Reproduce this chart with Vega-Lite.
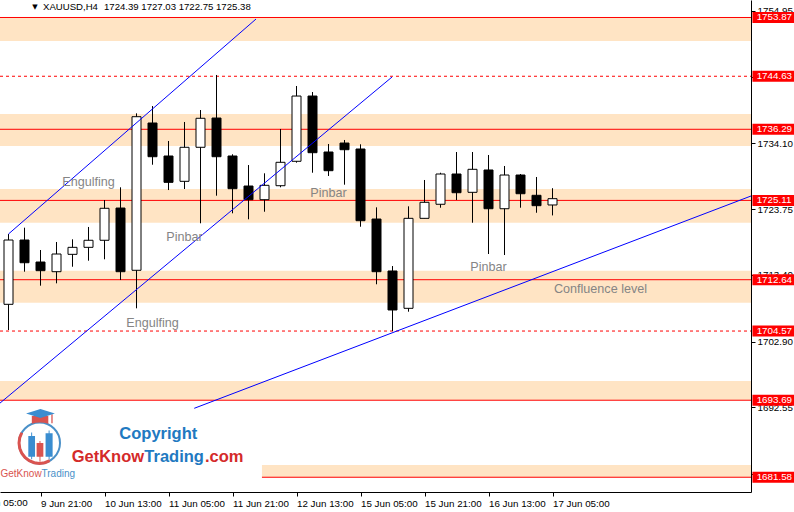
{
  "$schema": "https://vega.github.io/schema/vega-lite/v6.json",
  "description": "XAUUSD H4 candles with zones, levels and trend lines",
  "width": 751,
  "height": 492,
  "autosize": {"type": "none"},
  "padding": {"left": 0, "top": 0, "right": 43, "bottom": 20},
  "background": "#ffffff",
  "config": {"view": {"stroke": null}, "font": "Liberation Sans"},
  "datasets": {
    "candles": [
      {"i": 0, "o": 1708.77, "h": 1719.83, "l": 1704.73, "c": 1718.88},
      {"i": 1, "o": 1718.88, "h": 1720.82, "l": 1713.90, "c": 1715.31},
      {"i": 2, "o": 1715.42, "h": 1717.31, "l": 1711.70, "c": 1714.06},
      {"i": 3, "o": 1713.90, "h": 1718.57, "l": 1712.07, "c": 1716.68},
      {"i": 4, "o": 1716.63, "h": 1718.99, "l": 1714.68, "c": 1717.73},
      {"i": 5, "o": 1717.73, "h": 1720.93, "l": 1715.63, "c": 1718.84},
      {"i": 6, "o": 1718.84, "h": 1725.17, "l": 1715.85, "c": 1723.87},
      {"i": 7, "o": 1723.91, "h": 1727.17, "l": 1712.59, "c": 1713.90},
      {"i": 8, "o": 1714.12, "h": 1738.80, "l": 1708.14, "c": 1738.27},
      {"i": 9, "o": 1737.28, "h": 1739.95, "l": 1730.72, "c": 1731.98},
      {"i": 10, "o": 1732.09, "h": 1734.45, "l": 1726.74, "c": 1727.95},
      {"i": 11, "o": 1728.11, "h": 1737.44, "l": 1726.90, "c": 1733.46},
      {"i": 12, "o": 1733.46, "h": 1739.32, "l": 1721.51, "c": 1738.02},
      {"i": 13, "o": 1738.06, "h": 1744.83, "l": 1725.85, "c": 1731.98},
      {"i": 14, "o": 1732.09, "h": 1732.36, "l": 1723.08, "c": 1726.95},
      {"i": 15, "o": 1727.37, "h": 1730.67, "l": 1722.14, "c": 1725.22},
      {"i": 16, "o": 1725.22, "h": 1729.37, "l": 1723.33, "c": 1727.48},
      {"i": 17, "o": 1727.42, "h": 1736.34, "l": 1727.17, "c": 1731.10},
      {"i": 18, "o": 1731.26, "h": 1743.10, "l": 1731.04, "c": 1741.52},
      {"i": 19, "o": 1741.52, "h": 1742.15, "l": 1729.46, "c": 1732.61},
      {"i": 20, "o": 1732.72, "h": 1733.98, "l": 1728.95, "c": 1729.78},
      {"i": 21, "o": 1734.13, "h": 1734.61, "l": 1727.58, "c": 1733.08},
      {"i": 22, "o": 1733.19, "h": 1733.93, "l": 1720.97, "c": 1721.92},
      {"i": 23, "o": 1722.18, "h": 1724.02, "l": 1711.92, "c": 1713.90},
      {"i": 24, "o": 1714.01, "h": 1714.79, "l": 1704.57, "c": 1707.88},
      {"i": 25, "o": 1708.14, "h": 1724.18, "l": 1707.61, "c": 1722.29},
      {"i": 26, "o": 1722.29, "h": 1728.32, "l": 1722.29, "c": 1724.81},
      {"i": 27, "o": 1724.50, "h": 1729.46, "l": 1723.96, "c": 1729.26},
      {"i": 28, "o": 1729.26, "h": 1732.72, "l": 1725.17, "c": 1726.32},
      {"i": 29, "o": 1726.38, "h": 1732.72, "l": 1721.60, "c": 1730.00},
      {"i": 30, "o": 1729.89, "h": 1732.25, "l": 1716.68, "c": 1723.80},
      {"i": 31, "o": 1723.80, "h": 1730.52, "l": 1716.52, "c": 1729.10},
      {"i": 32, "o": 1729.10, "h": 1729.26, "l": 1723.96, "c": 1726.16},
      {"i": 33, "o": 1725.91, "h": 1728.79, "l": 1723.17, "c": 1724.28},
      {"i": 34, "o": 1724.39, "h": 1727.03, "l": 1722.75, "c": 1725.38}
    ],
    "zones": [
      {"lo": 1750.17, "hi": 1753.87, "from": -0.53125, "to": 46.40625},
      {"lo": 1733.66, "hi": 1738.69, "from": -0.53125, "to": 46.40625},
      {"lo": 1721.60, "hi": 1726.90, "from": -0.53125, "to": 46.40625},
      {"lo": 1709.03, "hi": 1714.05, "from": -0.53125, "to": 46.40625},
      {"lo": 1693.69, "hi": 1696.71, "from": -0.53125, "to": 46.40625},
      {"lo": 1681.58, "hi": 1683.50, "from": 15.84, "to": 46.40625}
    ],
    "levels": [
      {"price": 1753.87, "kind": "solid", "from": -0.53125, "to": 46.40625},
      {"price": 1744.63, "kind": "dashed", "from": -0.53125, "to": 46.40625},
      {"price": 1736.29, "kind": "solid", "from": -0.53125, "to": 46.40625},
      {"price": 1725.11, "kind": "solid", "from": -0.53125, "to": 46.40625},
      {"price": 1712.64, "kind": "solid", "from": -0.53125, "to": 46.40625},
      {"price": 1704.57, "kind": "dashed", "from": -0.53125, "to": 46.40625},
      {"price": 1693.69, "kind": "solid", "from": -0.53125, "to": 46.40625},
      {"price": 1681.58, "kind": "solid", "from": 15.84, "to": 46.40625}
    ],
    "trendlines": [
      {"id": "a", "idx": 0, "price": 1719.83},
      {"id": "a", "idx": 15.47, "price": 1753.63},
      {"id": "b", "idx": -0.53125, "price": 1693.24},
      {"id": "b", "idx": 23.97, "price": 1744.51},
      {"id": "c", "idx": 11.61, "price": 1692.42},
      {"id": "c", "idx": 46.40625, "price": 1725.80}
    ],
    "notes": [
      {"idx": 5, "price": 1728.05, "text": "Engulfing"},
      {"idx": 11, "price": 1719.40, "text": "Pinbar"},
      {"idx": 9, "price": 1705.88, "text": "Engulfing"},
      {"idx": 20, "price": 1726.23, "text": "Pinbar"},
      {"idx": 30, "price": 1714.59, "text": "Pinbar"},
      {"idx": 37, "price": 1711.18, "text": "Confluence level"}
    ]
  },
  "layer": [
    {
      "data": {"name": "zones"},
      "mark": {"type": "rect", "color": "#FFE4C4"},
      "encoding": {
        "x": {
          "field": "from", "type": "quantitative",
          "scale": {"domain": [-0.53125, 46.40625], "nice": false, "zero": false, "padding": 0},
          "axis": {
            "orient": "bottom", "title": null, "grid": false,
            "values": [2, 6, 10, 14, 18, 22, 26, 30, 34],
            "labelExpr": "datum.value == 2 ? '9 Jun 21:00' : datum.value == 6 ? '10 Jun 13:00' : datum.value == 10 ? '11 Jun 05:00' : datum.value == 14 ? '11 Jun 21:00' : datum.value == 18 ? '12 Jun 13:00' : datum.value == 22 ? '15 Jun 05:00' : datum.value == 26 ? '15 Jun 21:00' : datum.value == 30 ? '16 Jun 13:00' : '17 Jun 05:00'",
            "labelAlign": "left", "labelBaseline": "top", "labelPadding": 2,
            "tickSize": 4, "labelFontSize": 9.8, "labelFont": "Liberation Sans",
            "labelColor": "#000000", "tickColor": "#000000", "domainColor": "#000000",
            "labelFlush": false, "labelOverlap": false, "labelBound": false
          }
        },
        "x2": {"field": "to"},
        "y": {
          "field": "lo", "type": "quantitative",
          "scale": {"domain": [1679.26, 1756.62], "nice": false, "zero": false, "padding": 0},
          "axis": {
            "orient": "right", "title": null, "grid": false,
            "values": [1754.95, 1749.70, 1744.55, 1739.35, 1734.10, 1729.00, 1723.75, 1718.50, 1713.40, 1708.15, 1702.90, 1697.80, 1692.55, 1687.30, 1682.05],
            "format": ".2f", "tickSize": 4, "labelPadding": 2,
            "labelFontSize": 9.8, "labelFont": "Liberation Sans",
            "labelColor": "#000000", "tickColor": "#000000", "domainColor": "#000000",
            "labelOverlap": false, "labelFlush": false
          }
        },
        "y2": {"field": "hi"}
      }
    },
    {
      "mark": {"type": "rule", "color": "#A0A0A0", "strokeWidth": 1},
      "encoding": {"y": {"datum": 1725.38, "type": "quantitative"}}
    },
    {
      "data": {"name": "levels"},
      "transform": [{"filter": "datum.kind == 'solid'"}],
      "mark": {"type": "rule", "color": "#FF0000", "strokeWidth": 1},
      "encoding": {
        "x": {"field": "from", "type": "quantitative"},
        "x2": {"field": "to"},
        "y": {"field": "price", "type": "quantitative"}
      }
    },
    {
      "data": {"name": "levels"},
      "transform": [{"filter": "datum.kind == 'dashed'"}],
      "mark": {"type": "rule", "color": "#FF0000", "strokeWidth": 1, "strokeDash": [3, 3]},
      "encoding": {
        "x": {"field": "from", "type": "quantitative"},
        "x2": {"field": "to"},
        "y": {"field": "price", "type": "quantitative"}
      }
    },
    {
      "data": {"name": "candles"},
      "mark": {"type": "rule", "color": "#000000", "strokeWidth": 1},
      "encoding": {
        "x": {"field": "i", "type": "quantitative"},
        "y": {"field": "l", "type": "quantitative"},
        "y2": {"field": "h"}
      }
    },
    {
      "data": {"name": "candles"},
      "mark": {"type": "bar", "size": 9, "stroke": "#000000", "strokeWidth": 1},
      "encoding": {
        "x": {"field": "i", "type": "quantitative"},
        "y": {"field": "o", "type": "quantitative"},
        "y2": {"field": "c"},
        "fill": {"condition": {"test": "datum.c >= datum.o", "value": "#ffffff"}, "value": "#000000"}
      }
    },
    {
      "data": {"name": "trendlines"},
      "mark": {"type": "line", "color": "#0000FF", "strokeWidth": 1},
      "encoding": {
        "x": {"field": "idx", "type": "quantitative"},
        "y": {"field": "price", "type": "quantitative"},
        "detail": {"field": "id"}
      }
    },
    {
      "data": {"name": "notes"},
      "mark": {"type": "text", "font": "Liberation Sans", "fontSize": 12.6, "color": "#858585", "align": "center", "baseline": "middle"},
      "encoding": {
        "x": {"field": "idx", "type": "quantitative"},
        "y": {"field": "price", "type": "quantitative"},
        "text": {"field": "text"}
      }
    },
    {
      "data": {"name": "levels"},
      "mark": {"type": "tick", "orient": "horizontal", "size": 42, "thickness": 11, "color": "#FF0000", "opacity": 1},
      "encoding": {
        "x": {"datum": 47.81, "type": "quantitative"},
        "y": {"field": "price", "type": "quantitative"}
      }
    },
    {
      "data": {"name": "levels"},
      "mark": {"type": "text", "font": "Liberation Sans", "fontSize": 9.8, "color": "#ffffff", "align": "left", "baseline": "middle"},
      "encoding": {
        "x": {"datum": 46.76, "type": "quantitative"},
        "y": {"field": "price", "type": "quantitative"},
        "text": {"field": "price", "format": ".2f"}
      }
    },
    {
      "data": {"values": [{"sym": "XAUUSD,H4", "ohlc": "1724.39 1727.03 1722.75 1725.38", "arrow": "▼", "first": "9 Jun 05:00"}]},
      "layer": [
        {
          "mark": {"type": "text", "font": "DejaVu Sans", "fontSize": 7, "color": "#000000", "align": "center", "baseline": "middle"},
          "encoding": {
            "x": {"datum": 1.656, "type": "quantitative"},
            "y": {"datum": 1755.57, "type": "quantitative"},
            "text": {"field": "arrow"}
          }
        },
        {
          "mark": {"type": "text", "font": "Liberation Sans", "fontSize": 9.6, "color": "#000000", "align": "left", "baseline": "middle"},
          "encoding": {
            "x": {"datum": 2.156, "type": "quantitative"},
            "y": {"datum": 1755.57, "type": "quantitative"},
            "text": {"field": "sym"}
          }
        },
        {
          "mark": {"type": "text", "font": "Liberation Sans", "fontSize": 9.6, "color": "#000000", "align": "left", "baseline": "middle"},
          "encoding": {
            "x": {"datum": 5.969, "type": "quantitative"},
            "y": {"datum": 1755.57, "type": "quantitative"},
            "text": {"field": "ohlc"}
          }
        },
        {
          "mark": {"type": "text", "font": "Liberation Sans", "fontSize": 9.8, "color": "#000000", "align": "left", "baseline": "top"},
          "encoding": {
            "x": {"datum": -2, "type": "quantitative"},
            "y": {"datum": 1678.32, "type": "quantitative"},
            "text": {"field": "first"}
          }
        }
      ]
    },
    {
      "data": {"values": [{"a": "Copyright", "b": "GetKnow", "c": "Trading", "d": ".com"}]},
      "layer": [
        {
          "mark": {"type": "point", "shape": "circle", "size": 1681, "filled": false, "color": "#4A90C8", "strokeWidth": 2, "opacity": 1},
          "encoding": {"x": {"datum": 1.9375, "type": "quantitative"}, "y": {"datum": 1686.97, "type": "quantitative"}}
        },
        {
          "mark": {"type": "point", "shape": "M-0.554,-0.32L-0.618,-0.166L-0.64,0L-0.618,0.166L-0.554,0.32L-0.453,0.453L-0.32,0.554L-0.166,0.618L0,0.64L0.166,0.618L0.32,0.554", "size": 4096, "filled": false, "color": "#D9534F", "strokeWidth": 3, "opacity": 1},
          "encoding": {"x": {"datum": 1.9375, "type": "quantitative"}, "y": {"datum": 1686.97, "type": "quantitative"}}
        },
        {
          "mark": {"type": "point", "shape": "M-0.35,-0.22H-0.14V0.43H-0.35ZM-0.26,-0.33H-0.23V0.51H-0.26ZM0.19,-0.3H0.41V0.43H0.19ZM0.285,-0.39H0.315V0.51H0.285Z", "size": 4096, "filled": true, "color": "#3A8DD0", "opacity": 1},
          "encoding": {"x": {"datum": 1.9375, "type": "quantitative"}, "y": {"datum": 1686.97, "type": "quantitative"}}
        },
        {
          "mark": {"type": "point", "shape": "M-0.09,0H0.12V0.43H-0.09ZM0,-0.06H0.03V0.59H0Z", "size": 4096, "filled": true, "color": "#D9534F", "opacity": 1},
          "encoding": {"x": {"datum": 1.9375, "type": "quantitative"}, "y": {"datum": 1686.97, "type": "quantitative"}}
        },
        {
          "mark": {"type": "point", "shape": "M-0.24,-0.84L0.275,-0.84L0.275,-0.6Q0.02,-0.68 -0.24,-0.6ZM0.37,-0.9H0.41V-0.62H0.37Z", "size": 4096, "filled": true, "color": "#D9534F", "opacity": 1},
          "encoding": {"x": {"datum": 1.9375, "type": "quantitative"}, "y": {"datum": 1686.97, "type": "quantitative"}}
        },
        {
          "mark": {"type": "point", "shape": "M-0.42,-0.92L0.03,-1.06L0.48,-0.92L0.03,-0.78Z", "size": 4096, "filled": true, "color": "#3A8DD0", "opacity": 1},
          "encoding": {"x": {"datum": 1.9375, "type": "quantitative"}, "y": {"datum": 1686.97, "type": "quantitative"}}
        },
        {
          "mark": {"type": "text", "font": "Liberation Sans", "fontSize": 10, "color": "#D9534F", "align": "left", "baseline": "middle"},
          "encoding": {"x": {"datum": -0.5, "type": "quantitative"}, "y": {"datum": 1682.09, "type": "quantitative"}, "text": {"field": "b"}}
        },
        {
          "mark": {"type": "text", "font": "Liberation Sans", "fontSize": 10, "color": "#4A90C8", "align": "left", "baseline": "middle", "dx": 41},
          "encoding": {"x": {"datum": -0.5, "type": "quantitative"}, "y": {"datum": 1682.09, "type": "quantitative"}, "text": {"field": "c"}}
        },
        {
          "mark": {"type": "text", "font": "Liberation Sans", "fontSize": 16.5, "fontWeight": "bold", "color": "#2179C1", "align": "center", "baseline": "alphabetic"},
          "encoding": {"x": {"datum": 9.36, "type": "quantitative"}, "y": {"datum": 1687.55, "type": "quantitative"}, "text": {"field": "a"}}
        },
        {
          "mark": {"type": "text", "font": "Liberation Sans", "fontSize": 16.5, "fontWeight": "bold", "color": "#D42A2A", "align": "left", "baseline": "alphabetic"},
          "encoding": {"x": {"datum": 3.95, "type": "quantitative"}, "y": {"datum": 1684.03, "type": "quantitative"}, "text": {"field": "b"}}
        },
        {
          "mark": {"type": "text", "font": "Liberation Sans", "fontSize": 16.5, "fontWeight": "bold", "color": "#2179C1", "align": "left", "baseline": "alphabetic", "dx": 72.6},
          "encoding": {"x": {"datum": 3.95, "type": "quantitative"}, "y": {"datum": 1684.03, "type": "quantitative"}, "text": {"field": "c"}}
        },
        {
          "mark": {"type": "text", "font": "Liberation Sans", "fontSize": 16.5, "fontWeight": "bold", "color": "#D42A2A", "align": "left", "baseline": "alphabetic", "dx": 133.2},
          "encoding": {"x": {"datum": 3.95, "type": "quantitative"}, "y": {"datum": 1684.03, "type": "quantitative"}, "text": {"field": "d"}}
        }
      ]
    }
  ]
}
